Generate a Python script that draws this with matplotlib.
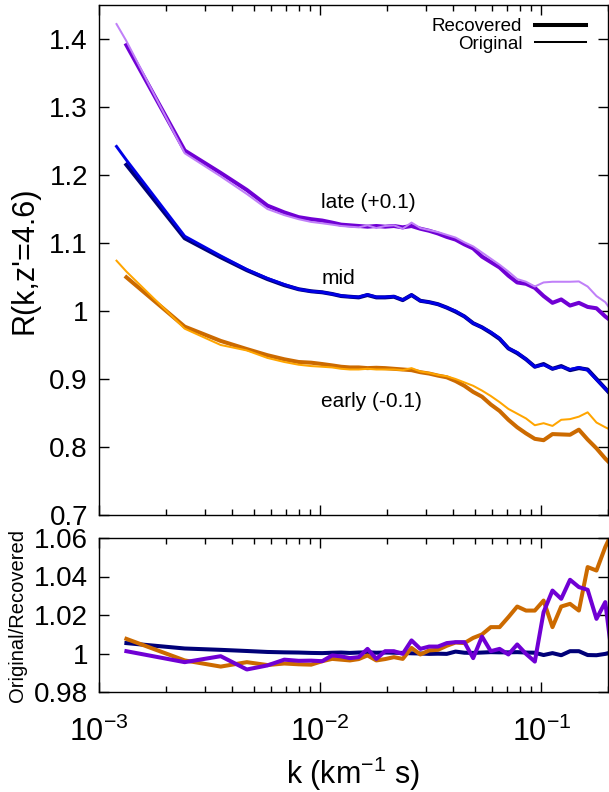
import matplotlib
matplotlib.use("Agg")
import matplotlib.pyplot as plt
from matplotlib.ticker import FixedLocator, FuncFormatter, LogLocator, NullFormatter
from matplotlib.lines import Line2D

plt.rcParams['font.family'] = ['Liberation Sans', 'DejaVu Sans']
plt.rcParams['mathtext.fontset'] = 'custom'
plt.rcParams['mathtext.rm'] = 'Liberation Sans'
plt.rcParams['mathtext.it'] = 'Liberation Sans:italic'
plt.rcParams['mathtext.bf'] = 'Liberation Sans:bold'

# ---------------- data ----------------
k = [1.33e-3, 2.44e-3, 3.55e-3, 4.66e-3, 5.77e-3, 6.88e-3, 7.99e-3, 9.10e-3,
     1.021e-2, 1.132e-2, 1.243e-2, 1.362e-2, 1.493e-2, 1.636e-2, 1.793e-2,
     1.965e-2, 2.154e-2, 2.361e-2, 2.587e-2, 2.836e-2, 3.108e-2, 3.406e-2,
     3.733e-2, 4.092e-2, 4.485e-2, 4.915e-2, 5.387e-2, 5.904e-2, 6.471e-2,
     7.092e-2, 7.773e-2, 8.519e-2, 9.337e-2, 0.1023, 0.1122, 0.1229, 0.1347,
     0.1477, 0.1618, 0.1774, 0.1944, 0.2131]
k_orig = [1.2e-3] + k

late_rec = [1.391, 1.236, 1.203, 1.178, 1.155, 1.145, 1.138, 1.135, 1.133, 1.130,
            1.127, 1.126, 1.125, 1.124, 1.125, 1.124, 1.125, 1.123, 1.125, 1.121,
            1.118, 1.114, 1.109, 1.105, 1.098, 1.092, 1.080, 1.072, 1.064, 1.052,
            1.042, 1.040, 1.034, 1.022, 1.012, 1.017, 1.008, 1.012, 1.006, 1.004,
            0.992, 0.982]
late_orig = [1.422, 1.397, 1.232, 1.198, 1.172, 1.150, 1.141, 1.135, 1.131, 1.129,
             1.127, 1.125, 1.124, 1.123, 1.126, 1.122, 1.125, 1.126, 1.121, 1.130,
             1.122, 1.119, 1.116, 1.112, 1.108, 1.101, 1.095, 1.086, 1.077, 1.068,
             1.058, 1.047, 1.043, 1.036, 1.042, 1.043, 1.043, 1.043, 1.0435, 1.036,
             1.022, 1.013, 0.995]

mid_rec = [1.215, 1.107, 1.079, 1.060, 1.047, 1.038, 1.032, 1.029, 1.0275, 1.025,
           1.022, 1.021, 1.020, 1.0235, 1.020, 1.020, 1.021, 1.016, 1.0235, 1.015,
           1.013, 1.010, 1.005, 0.999, 0.992, 0.982, 0.976, 0.968, 0.959, 0.945,
           0.938, 0.929, 0.918, 0.922, 0.915, 0.919, 0.913, 0.916, 0.914, 0.900,
           0.886, 0.872]
mid_orig = [1.242, 1.222, 1.110, 1.081, 1.061, 1.048, 1.039, 1.032, 1.029, 1.0277,
            1.025, 1.0225, 1.021, 1.0205, 1.024, 1.0205, 1.0205, 1.0214, 1.0163, 1.0236,
            1.015, 1.013, 1.010, 1.005, 1.000, 0.992, 0.982, 0.976, 0.969, 0.960,
            0.945, 0.939, 0.929, 0.918, 0.921, 0.915, 0.918, 0.914, 0.917, 0.913,
            0.899, 0.886, 0.873]

early_rec = [1.0496, 0.977, 0.956, 0.944, 0.935, 0.929, 0.925, 0.924, 0.922, 0.920,
             0.918, 0.917, 0.917, 0.916, 0.9165, 0.916, 0.915, 0.914, 0.913, 0.910,
             0.908, 0.905, 0.9025, 0.897, 0.890, 0.881, 0.874, 0.8625, 0.853, 0.840,
             0.829, 0.820, 0.812, 0.810, 0.819, 0.8185, 0.818, 0.8255, 0.811, 0.798,
             0.783, 0.770]
early_orig = [1.074, 1.058, 0.974, 0.950, 0.942, 0.931, 0.925, 0.921, 0.919, 0.918,
              0.917, 0.915, 0.914, 0.914, 0.915, 0.914, 0.914, 0.914, 0.913, 0.916,
              0.911, 0.909, 0.906, 0.904, 0.900, 0.895, 0.890, 0.883, 0.875, 0.866,
              0.856, 0.849, 0.842, 0.832, 0.835, 0.831, 0.840, 0.841, 0.8446, 0.851,
              0.836, 0.829, 0.823]

ratio_mid = [1.0054, 1.0026, 1.0019, 1.0013, 1.0008, 1.0006, 1.0005, 1.0003, 1.0002,
             1.0004, 1.0005, 1.0003, 1.0005, 1.0006, 1.0004, 1.0005, 1.0004, 1.0003,
             1.0001, 1.0000, 0.9998, 0.9999, 0.9998, 1.0010, 1.0004, 1.0003, 1.0005,
             1.0007, 1.0006, 1.0006, 1.0007, 1.0005, 1.0004, 0.9992, 1.0002, 0.9991,
             1.0012, 1.0012, 0.9992, 0.9991, 0.9998, 1.0010]
ratio_early = [1.0076, 0.9964, 0.9932, 0.9955, 0.9940, 0.9948, 0.9944, 0.9942, 0.9960,
               0.9972, 0.9968, 0.9964, 0.9971, 0.9990, 0.9964, 0.9971, 0.9981, 0.9972,
               1.0029, 0.9995, 1.0016, 1.0019, 1.0040, 1.0057, 1.0054, 1.0081, 1.0099,
               1.0137, 1.0137, 1.0189, 1.0244, 1.0223, 1.0223, 1.0275, 1.0137, 1.0244,
               1.0258, 1.0223, 1.0449, 1.0431, 1.0553, 1.0650]
ratio_late = [1.0012, 0.9955, 0.9986, 0.9917, 0.9938, 0.9968, 0.9962, 0.9963, 0.9960,
              0.9990, 0.9985, 0.9976, 0.9981, 1.0024, 0.9972, 1.0012, 1.0012, 0.9998,
              1.0068, 1.0024, 1.0036, 1.0036, 1.0054, 1.0059, 1.0059, 0.9976, 1.0088,
              1.0012, 1.0024, 0.9995, 1.0047, 0.9998, 0.9958, 1.0215, 1.0327, 1.0284,
              1.0383, 1.0345, 1.0331, 1.0180, 1.0267, 0.9900]

labels = ["late (+0.1)", "mid", "early (-0.1)"]
label_pos = [(1.01e-2, 1.16), (1.01e-2, 1.048), (1.01e-2, 0.867)]

# ---------------- style ----------------
C_LATE_REC, C_LATE_ORIG = '#7000d4', '#c080f8'
C_MID_REC, C_MID_ORIG = '#000078', '#0000e6'
C_EARLY_REC, C_EARLY_ORIG = '#cc6a00', '#ffa500'
LW_THICK, LW_THIN = 2.9, 1.45

fig = plt.figure(figsize=(6.09, 7.92), dpi=100)
W, H = 609.0, 792.0
ax1 = fig.add_axes([99 / W, 1 - 515 / H, 509 / W, 510 / H])
ax2 = fig.add_axes([99 / W, 1 - 692 / H, 509 / W, 154 / H])

# top panel
ax1.plot(k, late_rec, color=C_LATE_REC, lw=LW_THICK)
ax1.plot(k_orig, late_orig, color=C_LATE_ORIG, lw=LW_THIN)
ax1.plot(k, mid_rec, color=C_MID_REC, lw=LW_THICK)
ax1.plot(k_orig, mid_orig, color=C_MID_ORIG, lw=2.1)
ax1.plot(k, early_rec, color=C_EARLY_REC, lw=LW_THICK)
ax1.plot(k_orig, early_orig, color=C_EARLY_ORIG, lw=LW_THIN)

for txt, (x, y) in zip(labels, label_pos):
    ax1.text(x, y, txt, ha='left', va='center', fontsize=15)

# bottom panel
ax2.plot(k, ratio_mid, color=C_MID_REC, lw=LW_THICK)
ax2.plot(k, ratio_early, color=C_EARLY_REC, lw=LW_THICK)
ax2.plot(k, ratio_late, color=C_LATE_REC, lw=LW_THICK)

for ax in (ax1, ax2):
    ax.set_xscale('log')
    ax.set_xlim(1e-3, 0.2)
    ax.xaxis.set_major_locator(LogLocator(base=10, numticks=10))
    ax.xaxis.set_minor_locator(LogLocator(base=10, subs=range(2, 10), numticks=20))
    ax.xaxis.set_minor_formatter(NullFormatter())
    ax.tick_params(which='both', direction='in', top=True, right=True, width=1.0)
    ax.tick_params(which='major', length=7, labelsize=20)
    ax.tick_params(which='minor', length=4)
    ax.tick_params(axis='y', pad=8)
    for s in ax.spines.values():
        s.set_linewidth(1.0)

fmt = FuncFormatter(lambda v, p: '%g' % round(v, 4))
ax1.set_ylim(0.7, 1.45)
ax1.yaxis.set_major_locator(FixedLocator([0.7, 0.8, 0.9, 1.0, 1.1, 1.2, 1.3, 1.4]))
ax1.yaxis.set_major_formatter(fmt)
ax1.tick_params(axis='x', labelbottom=False)

ax2.set_ylim(0.98, 1.06)
ax2.yaxis.set_major_locator(FixedLocator([0.98, 1.0, 1.02, 1.04, 1.06]))
ax2.yaxis.set_major_formatter(fmt)
ax2.tick_params(axis='x', pad=18, labelsize=22)

ax1.set_ylabel("R(k,z'=4.6)", fontsize=22)
ax1.yaxis.label.set_va('center')
ax1.yaxis.set_label_coords(-0.147, 0.5)
ax2.set_ylabel("Original/Recovered", fontsize=14.5)
ax2.yaxis.label.set_va('center')
ax2.yaxis.set_label_coords(-0.160, 0.5)
ax2.set_xlabel(r"k (km$^{-1}$ s)", fontsize=22)
ax2.xaxis.label.set_va('center')
ax2.xaxis.set_label_coords(0.5, -0.53)

handles = [Line2D([], [], color='black', lw=LW_THICK),
           Line2D([], [], color='black', lw=LW_THIN)]
ax1.legend(handles, ['Recovered', 'Original'], loc='upper right',
           bbox_to_anchor=(0.957, 0.974), frameon=False, markerfirst=False,
           fontsize=13.5, handlelength=2.7, handletextpad=0.7,
           labelspacing=0.0, borderpad=0, borderaxespad=0)

fig.savefig('out.png', dpi=100)
